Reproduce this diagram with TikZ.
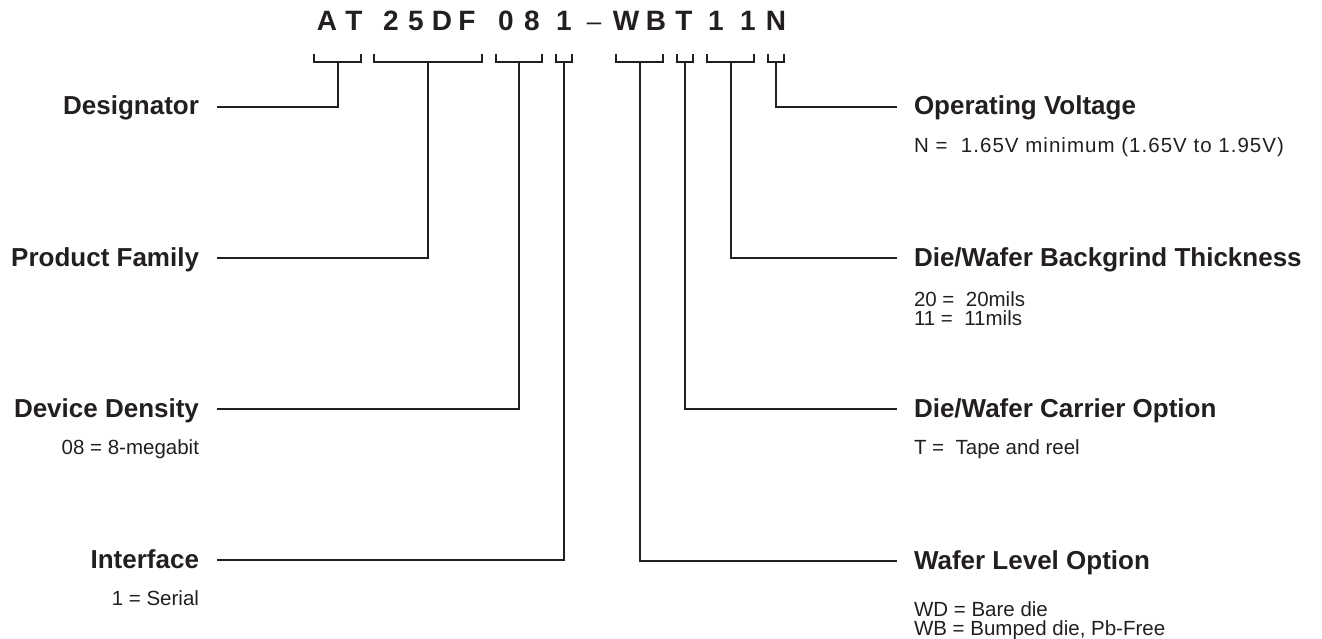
\documentclass[tikz,border=0pt]{standalone}
\usepackage{fontspec}
\setmainfont{Liberation Sans}
\usepackage{xcolor}
\usepackage{tikz}
\definecolor{ink}{HTML}{231F20}

% bracket under a group of code letters, stem point named #3
\newcommand{\partbracket}[3]{%
	\draw (#1,54) |- (#2,62) -- (#2,54);
	\coordinate (#3) at ({(#1+#2)/2},62);
}

\begin{document}
\begin{tikzpicture}[x=1pt,y=-1pt,ink,line width=2pt,
	code/.style={font=\fontsize{28}{28}\selectfont\bfseries,inner sep=0pt,anchor=base},
	field/.style={font=\fontsize{26}{26}\selectfont\bfseries,inner sep=0pt,text height=19pt,text depth=3pt},
	note/.style={font=\fontsize{20.5}{18.5}\selectfont,inner sep=0pt}]
	\useasboundingbox (0,0) rectangle (1322,639);
	%
	% ordering code
	\foreach \ch/\xx/\nm in {A/327/a,T/354/t,2/391/two,5/416/five,D/442/d,F/467/f,
		0/506/zero,8/532/eight,1/564/one,W/626/w,B/656/b,T/684/tt,1/716/oneb,1/748/onec,N/776/n}
		\node[code] (h\nm) at (\xx,31) {\ch};
	\node[code,font=\fontsize{26}{26}\selectfont] (hdash) at (594,31) {--};
	%
	\partbracket{314}{361}{bAT}
	\partbracket{374}{482}{bFam}
	\partbracket{496}{542}{bDen}
	\partbracket{556}{572}{bIf}
	\partbracket{616}{663}{bLevel}
	\partbracket{677}{693}{bCarrier}
	\partbracket{707}{754}{bThick}
	\partbracket{768}{784}{bVolt}
	%
	% fields on the left
	\node[field,anchor=east] (desig) at (200,107) {Designator};
	\node[field,anchor=east] (family) at (200,258) {Product Family};
	\node[field,anchor=east] (density) at (200,409) {Device Density};
	\node[note,anchor=base east] (densnote) at (200,454) {08 = 8-megabit};
	\node[field,anchor=east] (iface) at (200,560) {Interface};
	\node[note,anchor=base east] (ifnote) at (200,605) {1 = Serial};
	%
	% fields on the right
	\node[field,anchor=west] (volt) at (913,107) {Operating Voltage};
	\node[note,anchor=base west] (voltnote) at (913,153)
		{\addfontfeature{LetterSpace=5}N = \ 1.65V minimum (1.65V to 1.95V)};
	\node[field,anchor=west] (thick) at (913,258) {Die/Wafer Backgrind Thickness};
	\node[note,anchor=north west,align=left] (thicknote) at (913,291) {20 = \ 20mils\\11 = \ 11mils};
	\node[field,anchor=west] (carrier) at (913,409) {Die/Wafer Carrier Option};
	\node[note,anchor=base west] (carrnote) at (913,454) {T = \ Tape and reel};
	\node[field,anchor=west] (level) at (913,561) {Wafer Level Option};
	\node[note,anchor=north west,align=left] (levelnote) at (913,601) {WD = Bare die\\WB = Bumped die, Pb-Free};
	%
	\draw ([xshift=17pt]desig.east) -| (bAT);
	\draw ([xshift=17pt]family.east) -| (bFam);
	\draw ([xshift=17pt]density.east) -| (bDen);
	\draw ([xshift=17pt]iface.east) -| (bIf);
	\draw ([xshift=-16pt]volt.west) -| (bVolt);
	\draw ([xshift=-16pt]thick.west) -| (bThick);
	\draw ([xshift=-16pt]carrier.west) -| (bCarrier);
	\draw ([xshift=-16pt]level.west) -| (bLevel);
\end{tikzpicture}
\end{document}
